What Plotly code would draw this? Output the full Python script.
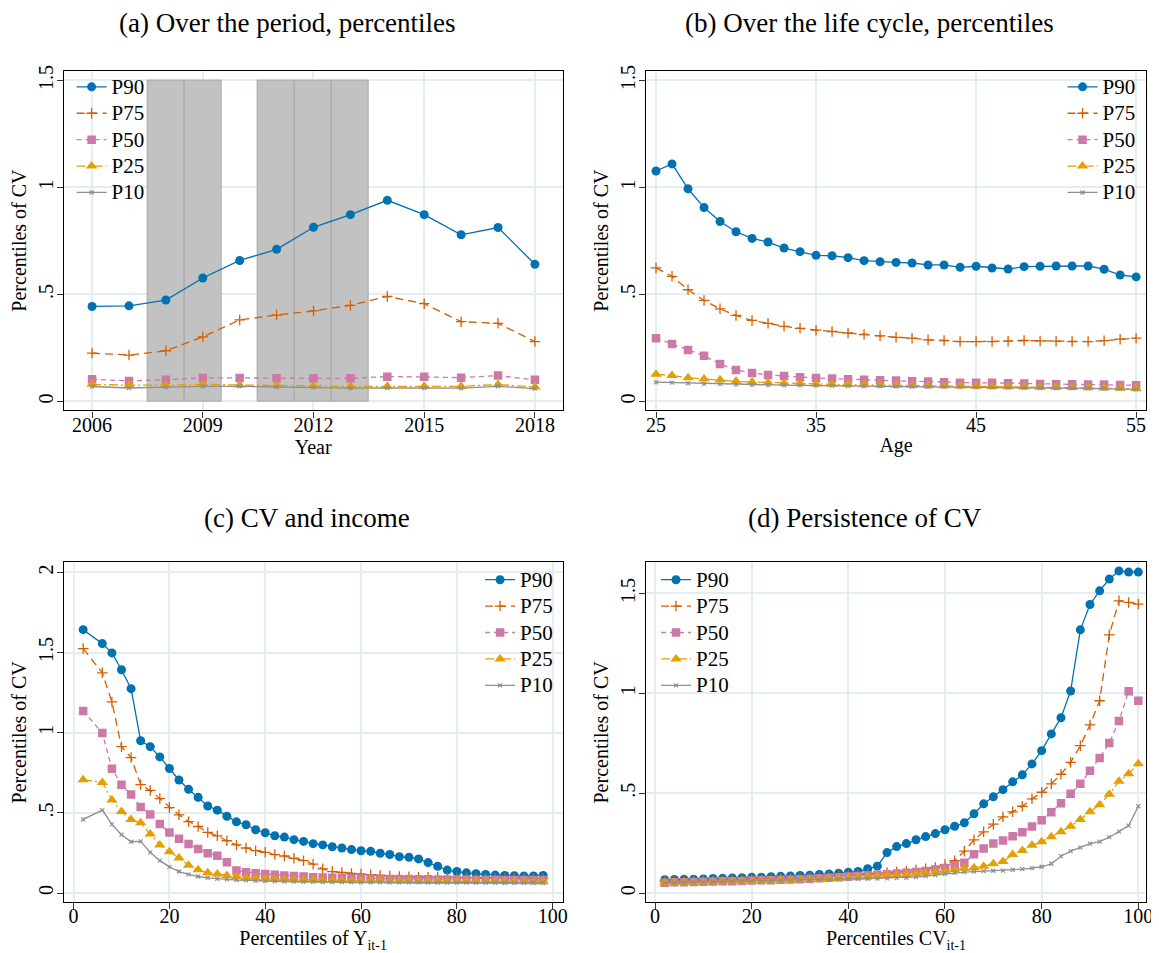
import plotly.graph_objects as go

# ---------------- DATA ----------------
series_names = ["P90", "P75", "P50", "P25", "P10"]

# (a) Over the period
years = [2006, 2007, 2008, 2009, 2010, 2011, 2012, 2013, 2014, 2015, 2016, 2017, 2018]
a_p90 = [0.444, 0.447, 0.474, 0.577, 0.659, 0.711, 0.814, 0.873, 0.940, 0.873, 0.779, 0.813, 0.641]
a_p75 = [0.226, 0.217, 0.237, 0.302, 0.381, 0.404, 0.423, 0.449, 0.491, 0.457, 0.373, 0.365, 0.280]
a_p50 = [0.104, 0.096, 0.102, 0.110, 0.110, 0.108, 0.108, 0.108, 0.116, 0.115, 0.111, 0.121, 0.101]
a_p25 = [0.080, 0.076, 0.076, 0.080, 0.077, 0.076, 0.073, 0.070, 0.071, 0.071, 0.071, 0.079, 0.068]
a_p10 = [0.070, 0.063, 0.067, 0.071, 0.071, 0.067, 0.065, 0.062, 0.063, 0.063, 0.062, 0.071, 0.060]
shade_years = [2008, 2009, 2011, 2012, 2013]
shade_top = [1.5, 1.5, 1.5, 1.5, 1.5]

# (b) Over the life cycle
ages = list(range(25, 56))
b_p90 = [1.077, 1.110, 0.994, 0.906, 0.841, 0.793, 0.762, 0.745, 0.717, 0.700, 0.683, 0.681, 0.672, 0.658, 0.653,
         0.650, 0.647, 0.638, 0.638, 0.627, 0.632, 0.624, 0.619, 0.630, 0.632, 0.633, 0.633, 0.633, 0.618, 0.591, 0.582]
b_p75 = [0.624, 0.585, 0.522, 0.472, 0.433, 0.402, 0.379, 0.365, 0.351, 0.342, 0.333, 0.327, 0.320, 0.313, 0.307,
         0.300, 0.296, 0.288, 0.285, 0.280, 0.280, 0.280, 0.282, 0.285, 0.283, 0.282, 0.280, 0.280, 0.284, 0.291, 0.296]
b_p50 = [0.296, 0.269, 0.241, 0.214, 0.175, 0.147, 0.133, 0.124, 0.119, 0.113, 0.110, 0.107, 0.104, 0.101, 0.099,
         0.098, 0.094, 0.093, 0.090, 0.088, 0.087, 0.087, 0.085, 0.084, 0.082, 0.080, 0.080, 0.079, 0.079, 0.077, 0.076]
b_p25 = [0.127, 0.121, 0.111, 0.105, 0.101, 0.094, 0.091, 0.088, 0.085, 0.084, 0.082, 0.080, 0.079, 0.078, 0.077,
         0.076, 0.075, 0.074, 0.073, 0.072, 0.071, 0.070, 0.069, 0.068, 0.067, 0.066, 0.065, 0.064, 0.063, 0.062, 0.060]
b_p10 = [0.090, 0.088, 0.085, 0.083, 0.081, 0.079, 0.078, 0.077, 0.076, 0.075, 0.074, 0.073, 0.072, 0.071, 0.071,
         0.070, 0.069, 0.068, 0.068, 0.067, 0.066, 0.065, 0.065, 0.064, 0.063, 0.062, 0.062, 0.061, 0.060, 0.059, 0.057]

# (c) CV and income
inc_pct = [2] + list(range(6, 100, 2))
c_p90 = [1.643, 1.556, 1.498, 1.393, 1.275, 0.950, 0.913, 0.849, 0.777, 0.705, 0.647, 0.597, 0.543, 0.517, 0.479,
         0.444, 0.426, 0.395, 0.376, 0.357, 0.349, 0.333, 0.322, 0.308, 0.300, 0.289, 0.281, 0.271, 0.264, 0.260,
         0.248, 0.240, 0.227, 0.223, 0.213, 0.190, 0.167, 0.143, 0.134, 0.126, 0.120, 0.116, 0.112, 0.110, 0.108,
         0.107, 0.107, 0.110]
c_p75 = [1.525, 1.374, 1.192, 0.913, 0.845, 0.676, 0.640, 0.589, 0.533, 0.488, 0.446, 0.415, 0.378, 0.357, 0.326,
         0.300, 0.281, 0.264, 0.254, 0.240, 0.231, 0.217, 0.202, 0.180, 0.151, 0.134, 0.128, 0.122, 0.118, 0.114,
         0.110, 0.106, 0.103, 0.101, 0.100, 0.099, 0.098, 0.097, 0.096, 0.095, 0.095, 0.094, 0.094, 0.093, 0.093,
         0.092, 0.092, 0.091]
c_p50 = [1.136, 0.998, 0.775, 0.676, 0.614, 0.537, 0.490, 0.430, 0.378, 0.339, 0.306, 0.275, 0.248, 0.233, 0.192,
         0.140, 0.130, 0.124, 0.118, 0.114, 0.110, 0.106, 0.103, 0.099, 0.097, 0.095, 0.094, 0.092, 0.091, 0.090,
         0.089, 0.088, 0.087, 0.087, 0.086, 0.086, 0.085, 0.085, 0.084, 0.084, 0.083, 0.083, 0.083, 0.082, 0.082,
         0.082, 0.081, 0.081]
c_p25 = [0.707, 0.690, 0.581, 0.508, 0.459, 0.438, 0.368, 0.300, 0.258, 0.219, 0.174, 0.145, 0.126, 0.118, 0.110,
         0.101, 0.097, 0.093, 0.089, 0.087, 0.085, 0.083, 0.082, 0.081, 0.080, 0.079, 0.078, 0.077, 0.077, 0.076,
         0.076, 0.075, 0.075, 0.075, 0.074, 0.074, 0.074, 0.073, 0.073, 0.073, 0.073, 0.072, 0.072, 0.072, 0.072,
         0.072, 0.071, 0.071]
c_p10 = [0.459, 0.517, 0.428, 0.364, 0.320, 0.322, 0.254, 0.202, 0.163, 0.134, 0.116, 0.103, 0.095, 0.089, 0.085,
         0.081, 0.079, 0.076, 0.074, 0.073, 0.072, 0.071, 0.070, 0.070, 0.069, 0.069, 0.068, 0.068, 0.067, 0.067,
         0.067, 0.066, 0.066, 0.066, 0.066, 0.065, 0.065, 0.065, 0.065, 0.065, 0.064, 0.064, 0.064, 0.064, 0.064,
         0.064, 0.064, 0.064]

# (d) Persistence of CV
cv_pct = list(range(2, 101, 2))
d_p90 = [0.067, 0.068, 0.069, 0.070, 0.071, 0.073, 0.074, 0.076, 0.077, 0.079, 0.080, 0.082, 0.084, 0.086, 0.088,
         0.090, 0.093, 0.096, 0.100, 0.105, 0.108, 0.122, 0.135, 0.203, 0.233, 0.248, 0.267, 0.283, 0.298, 0.317,
         0.335, 0.352, 0.397, 0.447, 0.482, 0.518, 0.557, 0.592, 0.647, 0.713, 0.797, 0.878, 1.012, 1.318, 1.445,
         1.513, 1.572, 1.613, 1.607, 1.607]
d_p75 = [0.060, 0.061, 0.062, 0.063, 0.064, 0.065, 0.066, 0.067, 0.068, 0.070, 0.071, 0.072, 0.074, 0.075, 0.077,
         0.079, 0.081, 0.084, 0.087, 0.090, 0.094, 0.097, 0.100, 0.103, 0.106, 0.110, 0.116, 0.122, 0.128, 0.143,
         0.162, 0.210, 0.267, 0.307, 0.345, 0.382, 0.407, 0.435, 0.472, 0.505, 0.547, 0.595, 0.655, 0.738, 0.842,
         0.963, 1.293, 1.463, 1.455, 1.447]
d_p50 = [0.052, 0.054, 0.055, 0.056, 0.057, 0.058, 0.059, 0.060, 0.061, 0.063, 0.064, 0.065, 0.067, 0.068, 0.070,
         0.072, 0.074, 0.077, 0.080, 0.083, 0.086, 0.089, 0.092, 0.095, 0.098, 0.102, 0.106, 0.111, 0.118, 0.126,
         0.138, 0.152, 0.195, 0.223, 0.248, 0.263, 0.285, 0.305, 0.333, 0.365, 0.405, 0.450, 0.497, 0.547, 0.613,
         0.677, 0.752, 0.862, 1.010, 0.963]
d_p25 = [0.052, 0.053, 0.054, 0.055, 0.056, 0.057, 0.058, 0.059, 0.060, 0.061, 0.062, 0.063, 0.064, 0.065, 0.067,
         0.068, 0.070, 0.072, 0.074, 0.077, 0.079, 0.082, 0.085, 0.088, 0.091, 0.094, 0.097, 0.101, 0.106, 0.110,
         0.117, 0.125, 0.127, 0.135, 0.147, 0.158, 0.193, 0.213, 0.240, 0.257, 0.282, 0.307, 0.335, 0.368, 0.408,
         0.443, 0.495, 0.560, 0.598, 0.648]
d_p10 = [0.052, 0.053, 0.054, 0.055, 0.056, 0.057, 0.058, 0.059, 0.060, 0.061, 0.062, 0.063, 0.064, 0.065, 0.066,
         0.067, 0.068, 0.069, 0.070, 0.071, 0.072, 0.072, 0.073, 0.074, 0.075, 0.077, 0.080, 0.085, 0.090, 0.097,
         0.102, 0.105, 0.108, 0.110, 0.112, 0.113, 0.117, 0.120, 0.125, 0.132, 0.147, 0.185, 0.210, 0.228, 0.248,
         0.258, 0.280, 0.308, 0.338, 0.435]

panel_titles = ["(a) Over the period, percentiles", "(b) Over the life cycle, percentiles",
                "(c) CV and income", "(d) Persistence of CV"]
x_titles = ["Year", "Age", "Percentiles of Y<sub>it-1</sub>", "Percentiles CV<sub>it-1</sub>"]
y_title = "Percentiles of CV"

# ---------------- STYLE ----------------
OFF = 8                    # page body margin
W, H = 1159 - OFF, 953 - OFF
FONT = "Liberation Serif"
colors = ["#0072B2", "#D55E00", "#CC79A7", "#E69F00", "#8E8E8E"]
dashes = ["solid", "8px,5px", "5px,4px", "9px,3px,2px,3px", "solid"]
markers = [
    dict(symbol="circle", size=9),
    dict(symbol="cross-thin", size=7.5, line=dict(width=1.3)),
    dict(symbol="square", size=8.5),
    dict(symbol="triangle-up", size=10),
    dict(symbol="x-thin", size=4, line=dict(width=1.2)),
]

def px_x(p):
    return (p - OFF) / W

def px_y(p):
    return 1 - (p - OFF) / H

# panel frames in page pixels: (left, right, top, bottom)
frames = [(64, 566, 65, 407), (650, 1153, 65, 407), (64, 566, 560, 902), (650, 1153, 560, 902)]
xranges = [[2005.23, 2018.75], [24.38, 55.62], [-2.07, 102.07], [-1.85, 101.6]]
yranges = [[-0.042, 1.546], [-0.042, 1.546], [-0.058, 2.062], [-0.046, 1.655]]
xticks = [[2006, 2009, 2012, 2015, 2018], [25, 35, 45, 55], [0, 20, 40, 60, 80, 100], [0, 20, 40, 60, 80, 100]]
yticks = [[0, 0.5, 1, 1.5], [0, 0.5, 1, 1.5], [0, 0.5, 1, 1.5, 2], [0, 0.5, 1, 1.5]]
ytext = {0: "0", 0.5: ".5", 1: "1", 1.5: "1.5", 2: "2"}
legend_pos = [(72, 63), (1069, 63), (483, 559), (660, 559)]
title_pos = [(289, 17), (875, 17), (309, 515), (870, 515)]

fig = go.Figure()

# shading (panel a)
fig.add_trace(go.Bar(x=shade_years, y=shade_top, width=1, xaxis="x", yaxis="y",
                     marker=dict(color="#c2c2c2", line=dict(color="#a6a6a6", width=1)),
                     showlegend=False, hoverinfo="skip"))

panels = [
    (years, [a_p90, a_p75, a_p50, a_p25, a_p10]),
    (ages, [b_p90, b_p75, b_p50, b_p25, b_p10]),
    (inc_pct, [c_p90, c_p75, c_p50, c_p25, c_p10]),
    (cv_pct, [d_p90, d_p75, d_p50, d_p25, d_p10]),
]

for k, (xs, ys_list) in enumerate(panels):
    sfx = "" if k == 0 else str(k + 1)
    leg = "legend" if k == 0 else f"legend{k + 1}"
    for i, ys in enumerate(ys_list):
        m = dict(markers[i])
        m["color"] = colors[i]
        if "line" in m:
            m["line"] = dict(m["line"], color=colors[i])
        fig.add_trace(go.Scatter(
            x=xs, y=ys, mode="lines+markers",
            name='<span style="font-size:21px">' + series_names[i] + "</span>",
            xaxis="x" + sfx, yaxis="y" + sfx, legend=leg,
            line=dict(color=colors[i], width=1.3, dash=dashes[i]),
            marker=m,
        ))

layout = dict(
    width=W, height=H,
    margin=dict(l=0, r=0, t=0, b=0),
    paper_bgcolor="white", plot_bgcolor="white",
    font=dict(family=FONT, size=20, color="black"),
    showlegend=True,
    bargap=0,
)

grid_col = "#e4eef1"
for k in range(4):
    sfx = "" if k == 0 else str(k + 1)
    l, r, t, b = frames[k]
    layout["xaxis" + sfx] = dict(
        domain=[px_x(l), px_x(r)], range=xranges[k], anchor="y" + sfx,
        tickvals=xticks[k], ticks="outside", ticklen=6, tickcolor="#333", tickwidth=1,
        ticklabelstandoff=-10,
        showgrid=True, gridcolor=grid_col, gridwidth=1.5, zeroline=False,
        showline=True, linecolor="black", linewidth=1.3, mirror=True,
        tickfont=dict(family=FONT, size=20),
        title=dict(text=x_titles[k], font=dict(family=FONT, size=20), standoff=3),
    )
    layout["yaxis" + sfx] = dict(
        domain=[px_y(b), px_y(t)], range=yranges[k], anchor="x" + sfx,
        tickvals=yticks[k], ticktext=[ytext[v] for v in yticks[k]], tickangle=-90,
        ticks="outside", ticklen=6, tickcolor="#333", tickwidth=1,
        ticklabelstandoff=-4,
        showgrid=True, gridcolor=grid_col, gridwidth=1.5, zeroline=False,
        showline=True, linecolor="black", linewidth=1.3, mirror=True,
        tickfont=dict(family=FONT, size=20),
        title=dict(text=y_title, font=dict(family=FONT, size=20), standoff=2),
    )
    lx, ly = legend_pos[k]
    layout["legend" if k == 0 else f"legend{k + 1}"] = dict(
        x=px_x(lx), y=px_y(ly), xanchor="left", yanchor="top",
        bgcolor="rgba(0,0,0,0)", borderwidth=0,
        font=dict(family=FONT, size=18), tracegroupgap=0, itemwidth=30,
    )

layout["annotations"] = [
    dict(text=panel_titles[k], x=px_x(title_pos[k][0]), y=px_y(title_pos[k][1]),
         xref="paper", yref="paper", xanchor="center", yanchor="middle", showarrow=False,
         font=dict(family=FONT, size=27, color="black"))
    for k in range(4)
]

fig.update_layout(**layout)
fig.write_html("out.html")
